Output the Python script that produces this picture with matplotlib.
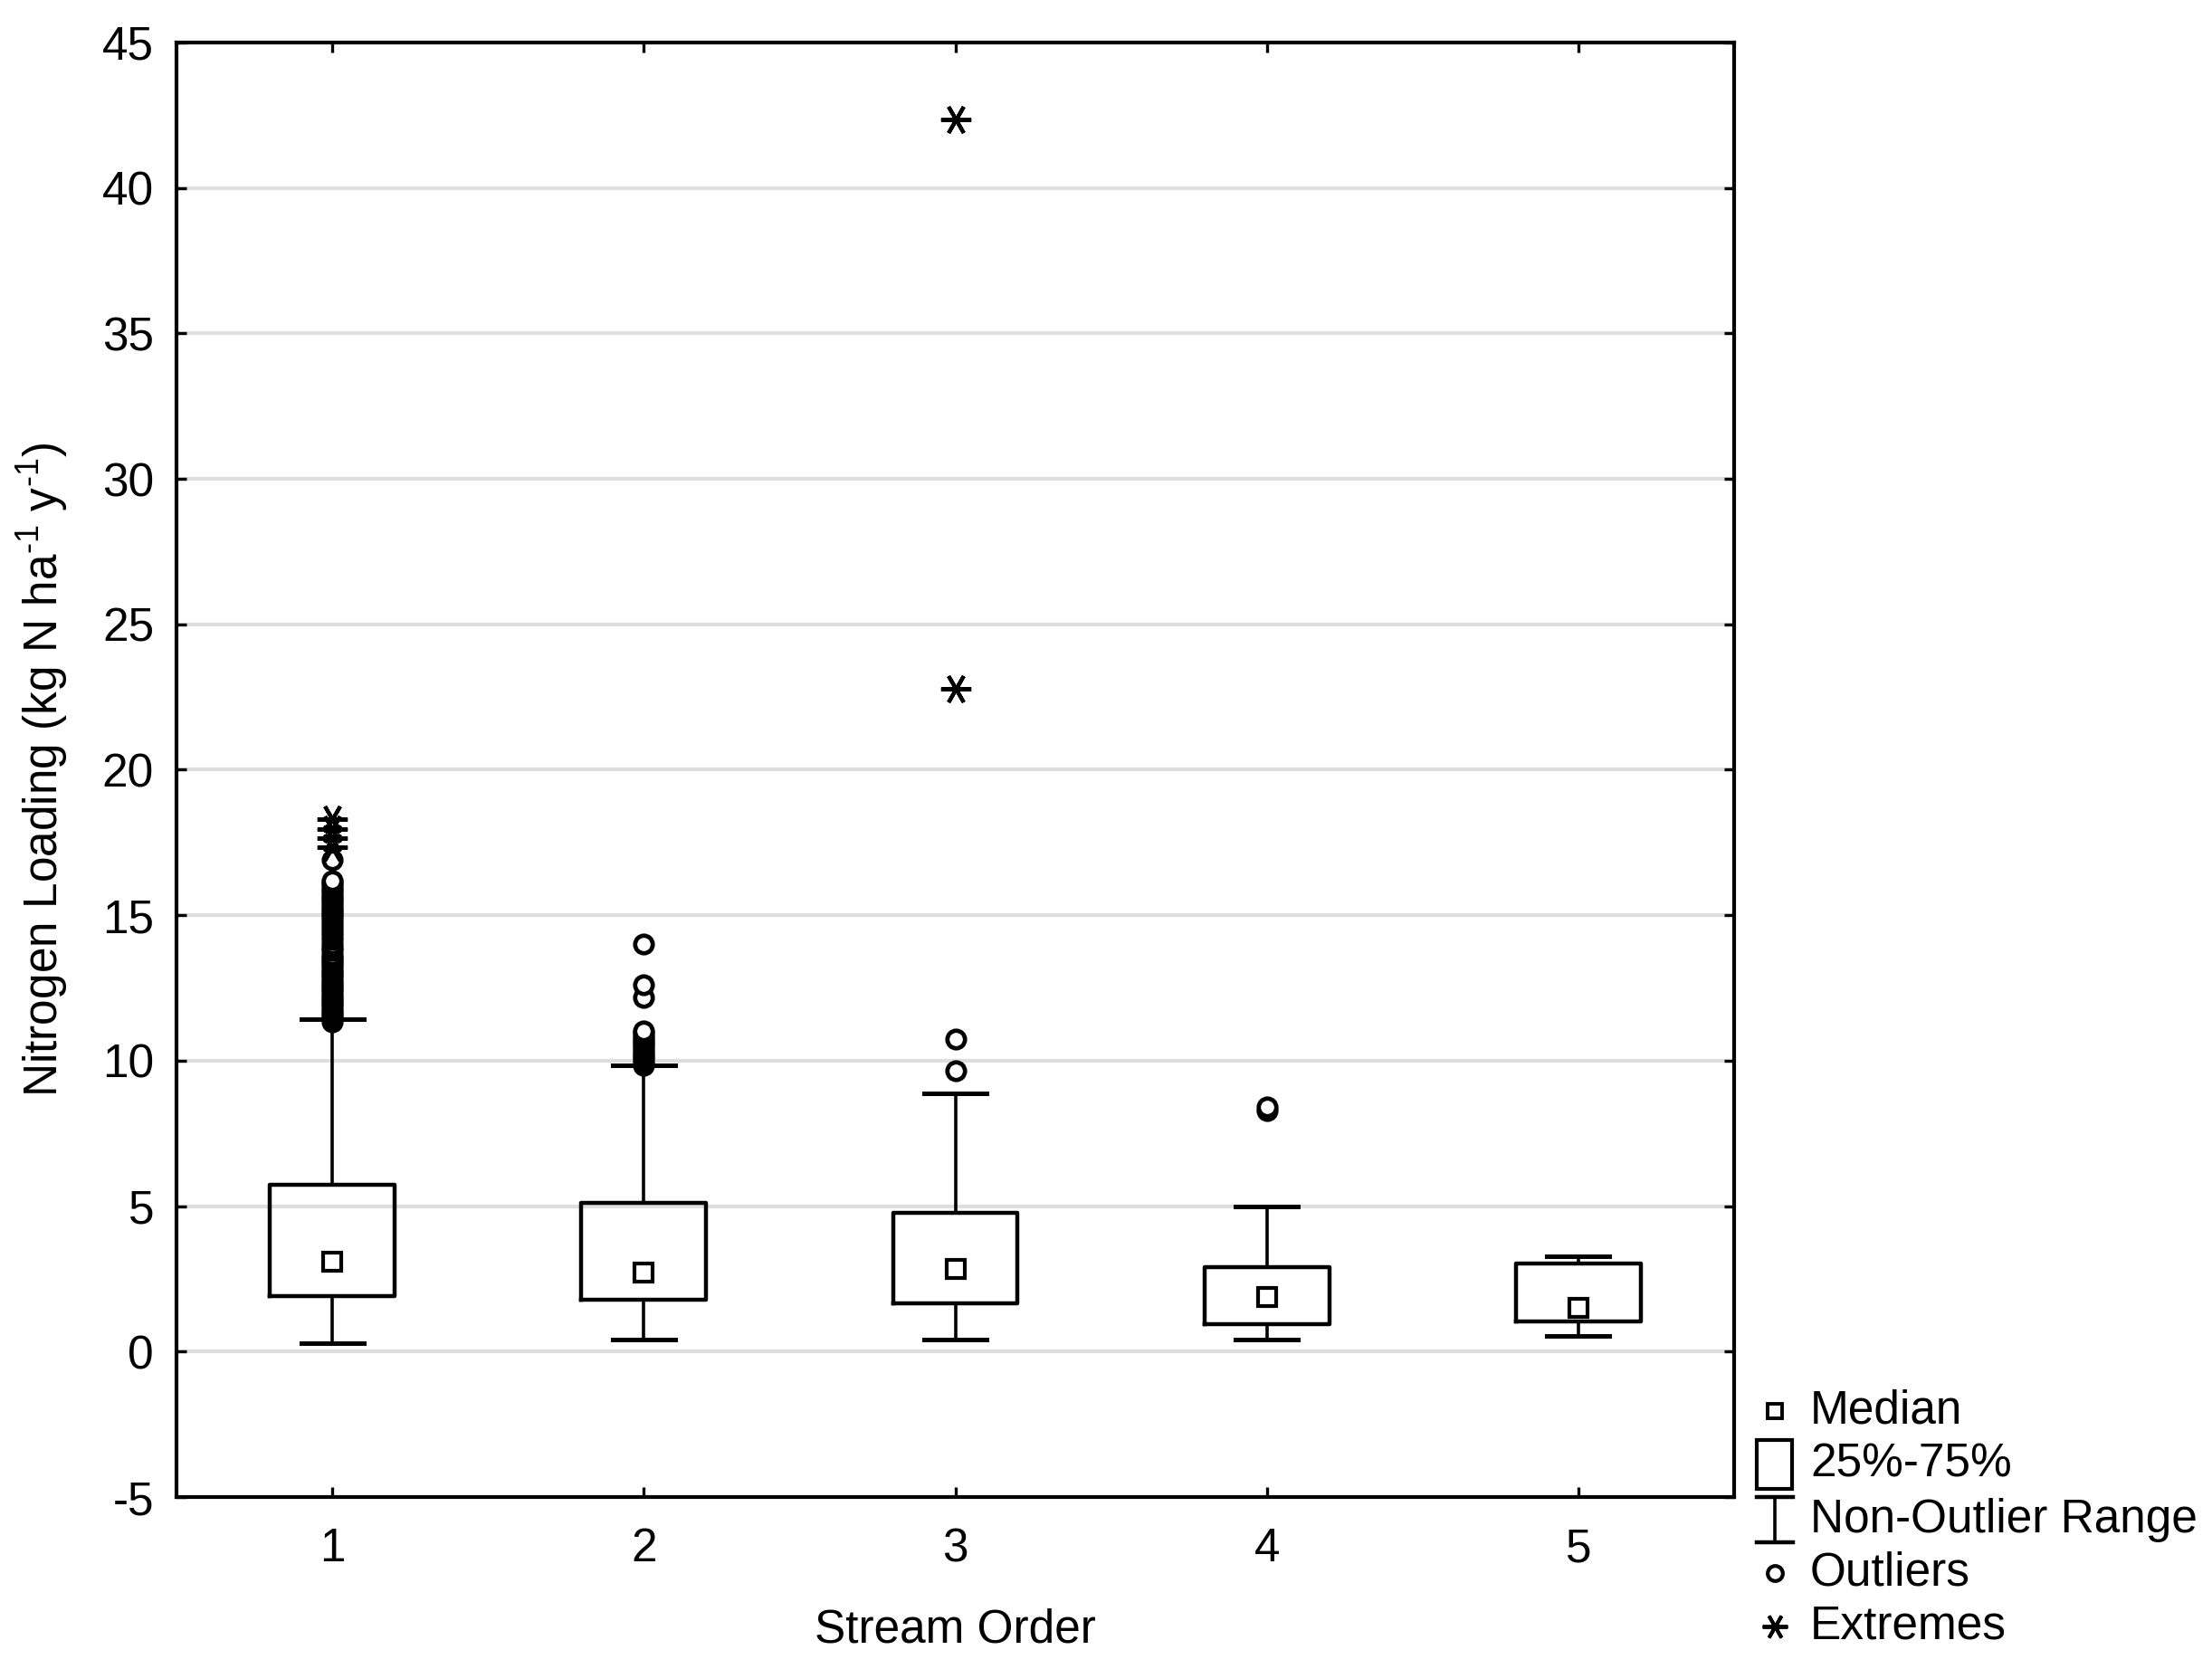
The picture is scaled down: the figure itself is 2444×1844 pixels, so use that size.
import matplotlib
matplotlib.use('Agg')
import matplotlib.pyplot as plt
from matplotlib.lines import Line2D
from matplotlib.patches import Rectangle

plt.rcParams['font.family'] = ['Liberation Sans', 'DejaVu Sans']
plt.rcParams['axes.unicode_minus'] = False
plt.rcParams['mathtext.default'] = 'regular'

# Daten
orders = [1, 2, 3, 4, 5]
medians = [3.1, 2.72, 2.84, 1.87, 1.5]
q1 = [1.91, 1.78, 1.66, 0.94, 1.04]
q3 = [5.73, 5.11, 4.77, 2.9, 3.03]
whis_lo = [0.3, 0.42, 0.42, 0.42, 0.55]
whis_hi = [11.43, 9.85, 8.87, 4.99, 3.28]

outliers = [
    [11.35, 11.45, 11.55, 11.65, 11.75, 11.85, 11.95, 12.05, 12.15, 12.25,
     12.35, 12.45, 12.55, 12.65, 12.75, 12.85, 12.95, 13.05, 13.15, 13.25,
     13.35, 13.45, 13.55, 13.65, 13.79, 13.9, 14.0, 14.17, 14.3, 14.42, 14.55,
     14.65, 14.79, 14.9, 15.0, 15.1, 15.2, 15.3, 15.41, 15.5, 15.6, 15.7, 15.8,
     15.9, 16.03, 16.13, 16.2, 16.9],
    [9.85, 9.95, 10.06, 10.15, 10.25, 10.35, 10.45, 10.55, 10.65, 10.75, 10.85,
     10.95, 11.02, 12.17, 12.62, 14.0],
    [9.65, 10.75],
    [8.3, 8.4],
    [],
]
extremes = [
    [17.35, 17.65, 17.95, 18.3],
    [],
    [22.77, 42.37],
    [],
    [],
]

xlabel = 'Stream Order'
ylabel = 'Nitrogen Loading (kg N ha$^{\u20101}$ y$^{\u20101}$)'
legend_labels = ['Median', '25%-75%', 'Non-Outlier Range', 'Outliers', 'Extremes']

W, H = 2444, 1844
fig = plt.figure(figsize=(W / 100, H / 100), dpi=100)
ax = fig.add_axes([195 / W, 190 / H, 1721 / W, 1607 / H])

stats = []
for i in range(len(orders)):
    stats.append({'med': medians[i], 'q1': q1[i], 'q3': q3[i],
                  'whislo': whis_lo[i], 'whishi': whis_hi[i],
                  'mean': medians[i], 'fliers': []})

ax.bxp(stats, positions=orders, widths=0.4, showmeans=True, showfliers=False,
       boxprops=dict(color='black', linewidth=3.2),
       whiskerprops=dict(color='black', linewidth=2.6),
       capprops=dict(color='black', linewidth=3.6),
       medianprops=dict(linewidth=0),
       meanprops=dict(marker='s', markersize=14, markerfacecolor='white',
                      markeredgecolor='black', markeredgewidth=3.0))

for x, vals in zip(orders, outliers):
    if vals:
        ax.plot([x] * len(vals), vals, linestyle='none', marker='o', ms=14,
                mfc='white', mec='black', mew=3.4, zorder=4)
for x, vals in zip(orders, extremes):
    if vals:
        ax.plot([x] * len(vals), vals, linestyle='none', marker=(6, 2, 90), ms=24,
                mec='black', mew=3.0, zorder=4)

ax.set_xlim(0.5, 5.5)
ax.set_ylim(-5, 45)
ax.set_yticks(range(-5, 50, 5))
ax.set_xticks(orders)
ax.set_xticklabels([str(o) for o in orders])
ax.grid(axis='y', color='#dedede', linewidth=3)
ax.set_axisbelow(True)
for s in ax.spines.values():
    s.set_linewidth(3.0)
ax.tick_params(direction='in', length=8, width=2.4, labelsize=37,
               top=True, right=True)
ax.tick_params(axis='y', pad=18)
ax.tick_params(axis='x', pad=24)

ax.set_xlabel(xlabel, fontsize=37)
ax.xaxis.set_label_coords(0.5, -0.0765)
ax.set_ylabel(ylabel, fontsize=37, va='center')
ax.yaxis.set_label_coords(-0.086, 0.5)

# Legende rechts unten
lx = 1961 / W
ty = [1 - y / H for y in (1559, 1618, 1679, 1738, 1797)]
fig.add_artist(Line2D([lx], [ty[0]], transform=fig.transFigure, marker='s', ms=12,
                      mfc='white', mec='black', mew=2.8))
fig.add_artist(Rectangle((1941 / W, ty[1] - 27 / H), 39 / W, 54 / H,
                         transform=fig.transFigure, fill=False,
                         edgecolor='black', linewidth=3.0))
fig.add_artist(Line2D([lx, lx], [ty[2] - 25 / H, ty[2] + 25 / H],
                      transform=fig.transFigure, color='black', linewidth=2.6))
for dy in (-25, 25):
    fig.add_artist(Line2D([1941 / W, 1981 / W], [ty[2] + dy / H] * 2,
                          transform=fig.transFigure, color='black', linewidth=3.2))
fig.add_artist(Line2D([lx], [ty[3]], transform=fig.transFigure, marker='o', ms=12,
                      mfc='white', mec='black', mew=3.0))
fig.add_artist(Line2D([lx], [ty[4]], transform=fig.transFigure, marker=(6, 2, 90),
                      ms=20, mec='black', mew=2.8))
for y, lab in zip(ty, legend_labels):
    fig.text(2000 / W, y, lab, fontsize=37, ha='left', va='center')

fig.savefig('out.png', dpi=100, facecolor='white')
